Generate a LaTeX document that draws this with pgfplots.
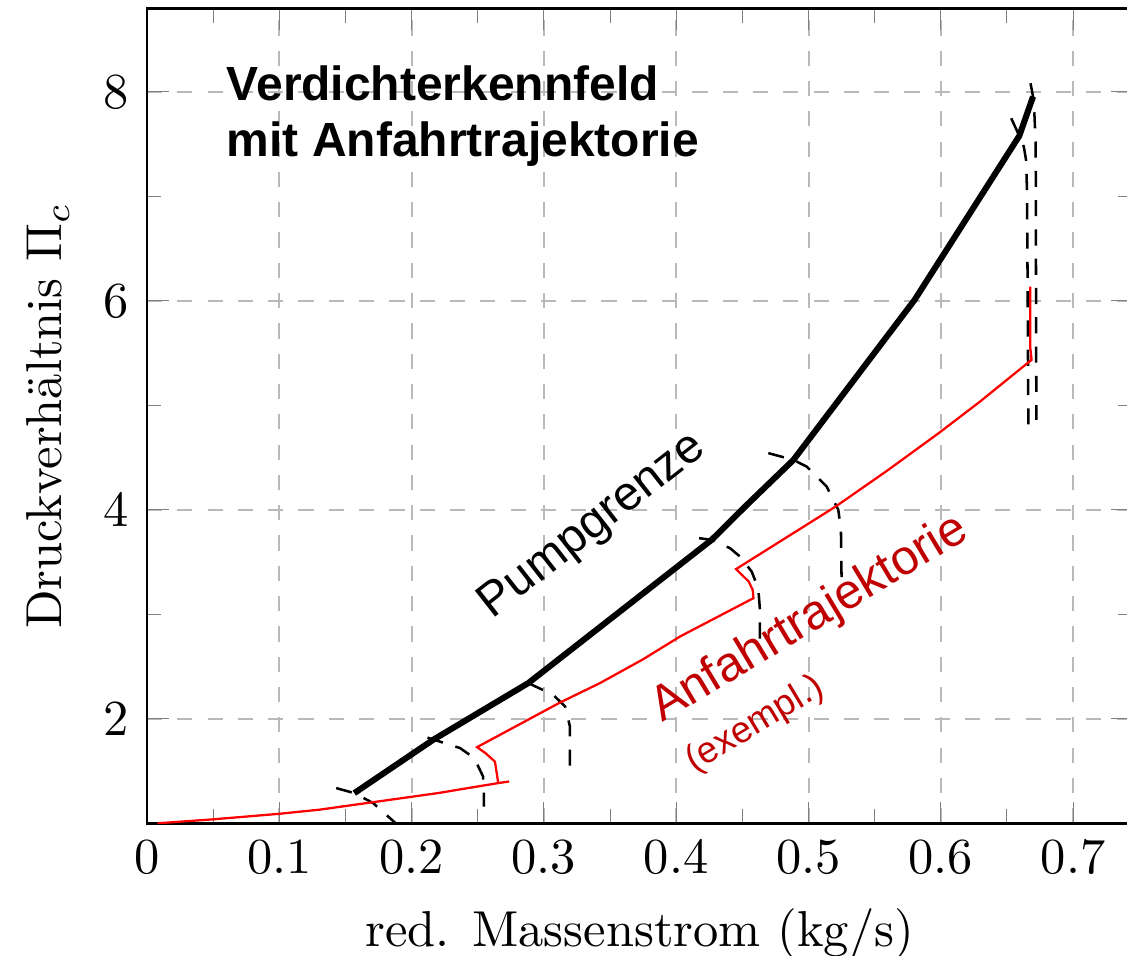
\documentclass[border=0pt]{standalone}
\usepackage{fontspec}
\usepackage{pgfplots}
\pgfplotsset{compat=1.18}
\newfontfamily\arial{Liberation Sans}
\definecolor{dred}{HTML}{C00000}
\begin{document}
\begin{tikzpicture}
\begin{axis}[
  scale only axis, width=195.2pt, height=161.4pt,
  xmin=0, xmax=0.745, ymin=1, ymax=8.8,
  xtick={0,0.1,0.2,0.3,0.4,0.5,0.6,0.7},
  ytick={2,4,6,8},
  minor x tick num=1, minor y tick num=1,
  grid=major,
  major grid style={dashed, gray!55, line width=0.4pt},
  xlabel={red. Massenstrom (kg/s)},
  ylabel={Druckverhältnis $\Pi_c$},
  xticklabel style={/pgf/number format/fixed},
  axis line style={black, line width=0.5pt},
  clip=true,
]
% speed lines
\addplot[black, line width=0.5pt, dash pattern=on 3.2pt off 2.6pt] coordinates {
(0.143,1.337) (0.1567,1.289) (0.171,1.193) (0.188,1.0) (0.192,0.95)};
\addplot[black, line width=0.5pt, dash pattern=on 3.2pt off 2.6pt] coordinates {
(0.212,1.82) (0.2366,1.72) (0.2445,1.65) (0.2492,1.576) (0.254,1.448) (0.2547,1.30) (0.2547,1.16)};
\addplot[black, line width=0.5pt, dash pattern=on 3.2pt off 2.6pt] coordinates {
(0.2882,2.342) (0.307,2.23) (0.316,2.118) (0.3197,1.926) (0.3197,1.44)};
\addplot[black, line width=0.5pt, dash pattern=on 3.2pt off 2.6pt] coordinates {
(0.4172,3.729) (0.4268,3.713) (0.4407,3.633) (0.4482,3.553) (0.457,3.41) (0.462,3.25) (0.4633,3.043) (0.4633,2.76)};
\addplot[black, line width=0.5pt, dash pattern=on 3.2pt off 2.6pt] coordinates {
(0.4696,4.543) (0.4886,4.478) (0.4986,4.414) (0.5137,4.223) (0.5225,4.0) (0.5245,3.81) (0.525,3.32)};
\addplot[black, line width=0.5pt, dash pattern=on 3.2pt off 2.6pt] coordinates {
(0.6532,7.748) (0.6593,7.579) (0.6627,7.477) (0.6644,7.349) (0.6652,7.03) (0.6662,4.734)};
\addplot[black, line width=0.5pt, dash pattern=on 3.2pt off 2.6pt] coordinates {
(0.6678,8.083) (0.6697,7.955) (0.6707,7.796) (0.6717,7.509) (0.6722,4.861)};
% surge line
\addplot[black, line width=1.2pt] coordinates {
(0.1567,1.289) (0.2164,1.800) (0.2882,2.342) (0.4268,3.713) (0.4540,4.055)
(0.4886,4.478) (0.5802,6.010) (0.6593,7.579) (0.6697,7.955)};
% start-up trajectory
\addplot[red, line width=0.45pt] coordinates {
(0.008,1.000) (0.05,1.038) (0.10,1.091) (0.1308,1.131) (0.2198,1.289) (0.2655,1.385) (0.2737,1.400)};
\addplot[red, line width=0.45pt] coordinates {
(0.2655,1.385) (0.2630,1.590) (0.2560,1.670) (0.2495,1.729) (0.3122,2.156) (0.3424,2.342)
(0.3750,2.570) (0.4029,2.788) (0.4584,3.155) (0.4578,3.234) (0.4548,3.314) (0.4452,3.433)
(0.5203,4.030) (0.5600,4.380) (0.5990,4.740) (0.6296,5.036) (0.6686,5.436) (0.6676,5.55) (0.6676,6.137)};
% texts
\node[anchor=base west, inner sep=0pt, font=\arial\bfseries\fontsize{9.5}{11}\selectfont] at (axis cs:0.0597,7.92) {Verdichterkennfeld};
\node[anchor=base west, inner sep=0pt, font=\arial\bfseries\fontsize{9.5}{11}\selectfont] at (axis cs:0.0597,7.381) {mit Anfahrtrajektorie};
\node[rotate=38, font=\arial\fontsize{9.5}{10}\selectfont] at (axis cs:0.337,3.84) {Pumpgrenze};
\node[rotate=31, text=dred, font=\arial\fontsize{9.7}{10}\selectfont] at (axis cs:0.501,2.95) {Anfahrtrajektorie};
\node[rotate=31, text=dred, font=\arial\fontsize{7.3}{8}\selectfont] at (axis cs:0.4596,1.943) {(exempl.)};
\coordinate (bbsw) at (axis cs:-0.1111,-0.268);
\coordinate (bbne) at (axis cs:0.7407,8.880);
\end{axis}
\pgfresetboundingbox
\path[use as bounding box] (bbsw) rectangle (bbne);
\end{tikzpicture}
\end{document}
